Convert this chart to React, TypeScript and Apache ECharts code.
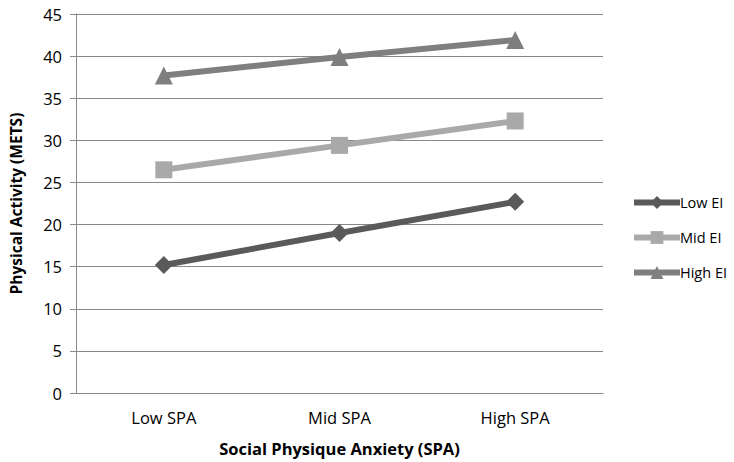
import React, { useEffect, useRef } from "react";
import * as echarts from "echarts";

const categories = ["Low SPA", "Mid SPA", "High SPA"];
const lowEI = [15.2, 19.0, 22.7];
const midEI = [26.5, 29.4, 32.3];
const highEI = [37.7, 39.9, 41.9];
const yTicks = { min: 0, max: 45, interval: 5 };

const FONT = "Open Sans";

export default function App() {
  const ref = useRef<HTMLDivElement>(null);
  useEffect(() => {
    if (!ref.current) return;
    const chart = echarts.init(ref.current, null, { renderer: "svg" });
    const mk = (name: string, data: number[], color: string, symbol: string, size: number) => ({
      name,
      type: "line",
      data,
      symbol,
      symbolSize: size,
      lineStyle: { color, width: 6 },
      itemStyle: { color },
      z: 3,
    });
    chart.setOption({
      animation: false,
      backgroundColor: "#ffffff",
      textStyle: { fontFamily: FONT },
      grid: { left: 70, right: 131, top: 14, bottom: 66 },
      legend: {
        orient: "vertical",
        left: 626,
        top: 190,
        itemGap: 20,
        itemWidth: 46,
        itemHeight: 16,
        lineStyle: { width: 6 },
        textStyle: { fontFamily: FONT, fontSize: 14.5, color: "#000", padding: [0, 0, 0, -5] },
        data: ["Low EI", "Mid EI", "High EI"],
      },
      xAxis: {
        type: "category",
        data: categories,
        boundaryGap: true,
        axisLine: { lineStyle: { color: "#888", width: 1 } },
        axisTick: { show: false },
        axisLabel: { fontFamily: FONT, fontSize: 16.5, color: "#000", margin: 16 },
        name: "Social Physique Anxiety (SPA)",
        nameLocation: "middle",
        nameGap: 47,
        nameTextStyle: { fontFamily: FONT, fontSize: 16.5, fontWeight: "bold", color: "#000" },
      },
      yAxis: {
        type: "value",
        min: yTicks.min,
        max: yTicks.max,
        interval: yTicks.interval,
        axisLine: { show: true, lineStyle: { color: "#888", width: 1 } },
        axisTick: { show: true, length: 6, lineStyle: { color: "#888" } },
        splitLine: { lineStyle: { color: "#888", width: 1 } },
        axisLabel: { fontFamily: FONT, fontSize: 16.5, color: "#000", margin: 14 },
        name: "Physical Activity (METS)",
        nameLocation: "middle",
        nameGap: 52,
        nameTextStyle: { fontFamily: FONT, fontSize: 15.5, fontWeight: "bold", color: "#000" },
      },
      series: [
        mk("Low EI", lowEI, "#5a5a5a", "diamond", 18),
        mk("Mid EI", midEI, "#a9a9a9", "rect", 17),
        mk("High EI", highEI, "#7f7f7f", "triangle", 18),
      ],
    });
    return () => chart.dispose();
  }, []);
  return <div ref={ref} style={{ width: 734, height: 462, position: "absolute", left: 0, top: 0 }} />;
}
